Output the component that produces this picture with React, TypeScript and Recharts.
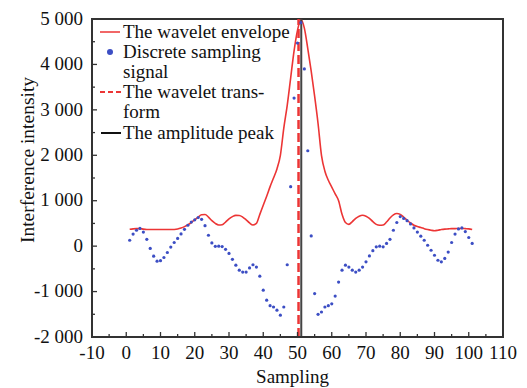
import React from "react";
import {
  ComposedChart,
  Line,
  Scatter,
  XAxis,
  YAxis,
  ReferenceLine,
  ReferenceArea,
} from "recharts";

// discrete samples, sample index 1..101
const SIGNAL = [
  130, 265, 350, 390, 310, 150, -50, -220, -330, -320,
  -250, -140, -20, 80, 170, 270, 370, 460, 530, 580,
  630, 590, 450, 240, 70, -5, 0, -10, -70, -160,
  -290, -420, -530, -570, -570, -480, -410, -460, -660, -970,
  -1190, -1310, -1340, -1410, -1520, -1340, -410, 1310, 3260, 4470,
  4920, 3900, 2100, 225, -1045, -1500, -1450, -1340, -1310, -1270,
  -1100, -790, -530, -420, -460, -530, -570, -530, -460, -345,
  -215, -100, -15, 0, -15, 60, 150, 350, 520, 650,
  610, 560, 490, 400, 310, 220, 130, 20, -90, -200,
  -310, -345, -270, -130, 80, 265, 380, 400, 320, 190,
  60,
];

const ENVELOPE = [
  370, 380, 385, 385, 375, 368, 365, 365, 365, 365,
  365, 365, 365, 368, 378, 400, 430, 470, 520, 580,
  640, 690, 695, 640, 560, 500, 465, 470, 530, 600,
  650, 678, 675, 640, 580, 510, 465, 500, 700, 900,
  1100, 1310, 1500, 1700, 2000, 2600, 3100, 3700, 4300, 4750,
  4990, 4800, 4350, 3850, 3300, 2700, 2000, 1650, 1450, 1300,
  1150, 1000, 700, 520, 480, 540, 610, 660, 680, 660,
  610, 540, 480, 460, 465, 530, 620, 690, 720, 700,
  640, 570, 510, 460, 430, 410, 385, 365, 350, 340,
  350, 365, 375, 380, 385, 385, 390, 390, 385, 380,
  365,
];

const X_TICKS = [-10, -5, 0, 5, 10, 15, 20, 25, 30, 35, 40, 45, 50, 55, 60, 65, 70, 75, 80, 85, 90, 95, 100, 105, 110];
const Y_TICKS = [-2000, -1500, -1000, -500, 0, 500, 1000, 1500, 2000, 2500, 3000, 3500, 4000, 4500, 5000];

const TRANSFORM_PEAK = 50.3;
const AMPLITUDE_PEAK = 51.1;

const data = SIGNAL.map((v, i) => ({ sample: i + 1, signal: v, envelope: ENVELOPE[i] }));

const FONT = "'Liberation Serif', 'Times New Roman', serif";
const RED = "#ec3535";
const BLUE = "#3c4ec4";
const DARK = "#333";

function fmtThousands(v: number): string {
  const abs = Math.abs(v);
  const sign = v < 0 ? "-" : "";
  if (abs < 1000) return sign + abs;
  return `${sign}${Math.floor(abs / 1000)} ${String(abs % 1000).padStart(3, "0")}`;
}

function XTick({ x, y, payload }: any) {
  const v = payload.value;
  const major = v % 10 === 0;
  return (
    <g>
      <line x1={x} x2={x} y1={y} y2={y - (major ? 5 : 3)} stroke={DARK} strokeWidth={1.3} />
      {major && (
        <text x={x} y={y + 22} textAnchor="middle" fontSize={19} fontFamily={FONT} fill="#111">
          {v}
        </text>
      )}
    </g>
  );
}

function YTick({ x, y, payload }: any) {
  const v = payload.value;
  const major = v % 1000 === 0;
  return (
    <g>
      <line x1={x} x2={x + (major ? 5 : 3)} y1={y} y2={y} stroke={DARK} strokeWidth={1.3} />
      {major && (
        <text x={x - 9} y={y} dy="0.3em" textAnchor="end" fontSize={19} fontFamily={FONT} fill="#111">
          {fmtThousands(v)}
        </text>
      )}
    </g>
  );
}

function Dot({ cx, cy }: any) {
  if (cx == null || cy == null) return null;
  return <circle cx={cx} cy={cy} r={1.6} fill={BLUE} />;
}

function ChartLegend() {
  const row = { height: 20, lineHeight: "20px", display: "flex", alignItems: "center" } as const;
  const text = { marginLeft: 2 };
  return (
    <div
      style={{
        position: "absolute",
        left: 100,
        top: 22,
        fontFamily: FONT,
        fontSize: 19,
        color: "#111",
        pointerEvents: "none",
      }}
    >
      <div style={row}>
        <svg width={21} height={20}><line x1={0} x2={20} y1={10} y2={10} stroke={RED} strokeWidth={1.5} /></svg>
        <span style={text}>The wavelet envelope</span>
      </div>
      <div style={row}>
        <svg width={21} height={20}><circle cx={10} cy={10} r={3} fill={BLUE} /></svg>
        <span style={text}>Discrete sampling</span>
      </div>
      <div style={{ ...row, paddingLeft: 23 }}>signal</div>
      <div style={row}>
        <svg width={21} height={20}><line x1={0} x2={21} y1={10} y2={10} stroke={RED} strokeWidth={2} strokeDasharray="5 3" /></svg>
        <span style={text}>The wavelet trans-</span>
      </div>
      <div style={{ ...row, paddingLeft: 23 }}>form</div>
      <div style={{ ...row, marginTop: 1 }}>
        <svg width={21} height={20}><line x1={1} x2={21} y1={10} y2={10} stroke="#111" strokeWidth={2} /></svg>
        <span style={text}>The amplitude peak</span>
      </div>
    </div>
  );
}

export default function App() {
  return (
    <div style={{ position: "absolute", left: 0, top: 0, width: 527, height: 388, background: "#fff" }}>
      <ComposedChart width={527} height={388} data={data} margin={{ top: 19, right: 24, left: 0, bottom: 0 }}>
        <XAxis
          dataKey="sample"
          type="number"
          domain={[-10, 110]}
          ticks={X_TICKS}
          interval={0}
          tickSize={0}
          tickMargin={0}
          tick={<XTick />}
          axisLine={{ stroke: DARK, strokeWidth: 2 }}
          height={51}
          label={(props: any) => {
            const vb = props.viewBox;
            return (
              <text x={vb.x + vb.width / 2 - 5} y={383} textAnchor="middle" fontSize={19} fontFamily={FONT} fill="#111">
                Sampling
              </text>
            );
          }}
        />
        <YAxis
          type="number"
          domain={[-2000, 5000]}
          ticks={Y_TICKS}
          interval={0}
          tickSize={0}
          tickMargin={0}
          tick={<YTick />}
          axisLine={{ stroke: DARK, strokeWidth: 2 }}
          width={92}
          label={(props: any) => {
            const vb = props.viewBox;
            const cx = 27;
            const cy = vb.y + vb.height / 2 - 18;
            return (
              <text
                x={cx}
                y={cy}
                transform={`rotate(-90, ${cx}, ${cy})`}
                textAnchor="middle"
                dominantBaseline="central"
                fontSize={19.5}
                fontFamily={FONT}
                fill="#111"
              >
                Interference intensity
              </text>
            );
          }}
        />
        <ReferenceArea
          x1={-10}
          x2={110}
          y1={-2000}
          y2={5000}
          fill="none"
          stroke={DARK}
          strokeWidth={2}
          ifOverflow="visible"
        />
        <Line
          dataKey="envelope"
          type="monotone"
          stroke={RED}
          strokeWidth={1.6}
          dot={false}
          activeDot={false}
          isAnimationActive={false}
        />
        <Scatter dataKey="signal" shape={<Dot />} isAnimationActive={false} />
        <ReferenceLine x={TRANSFORM_PEAK} stroke={RED} strokeWidth={2.5} strokeDasharray="9 4" ifOverflow="visible" />
        <ReferenceLine x={AMPLITUDE_PEAK} stroke="#444" strokeWidth={2} ifOverflow="visible" />
      </ComposedChart>
      <ChartLegend />
    </div>
  );
}
